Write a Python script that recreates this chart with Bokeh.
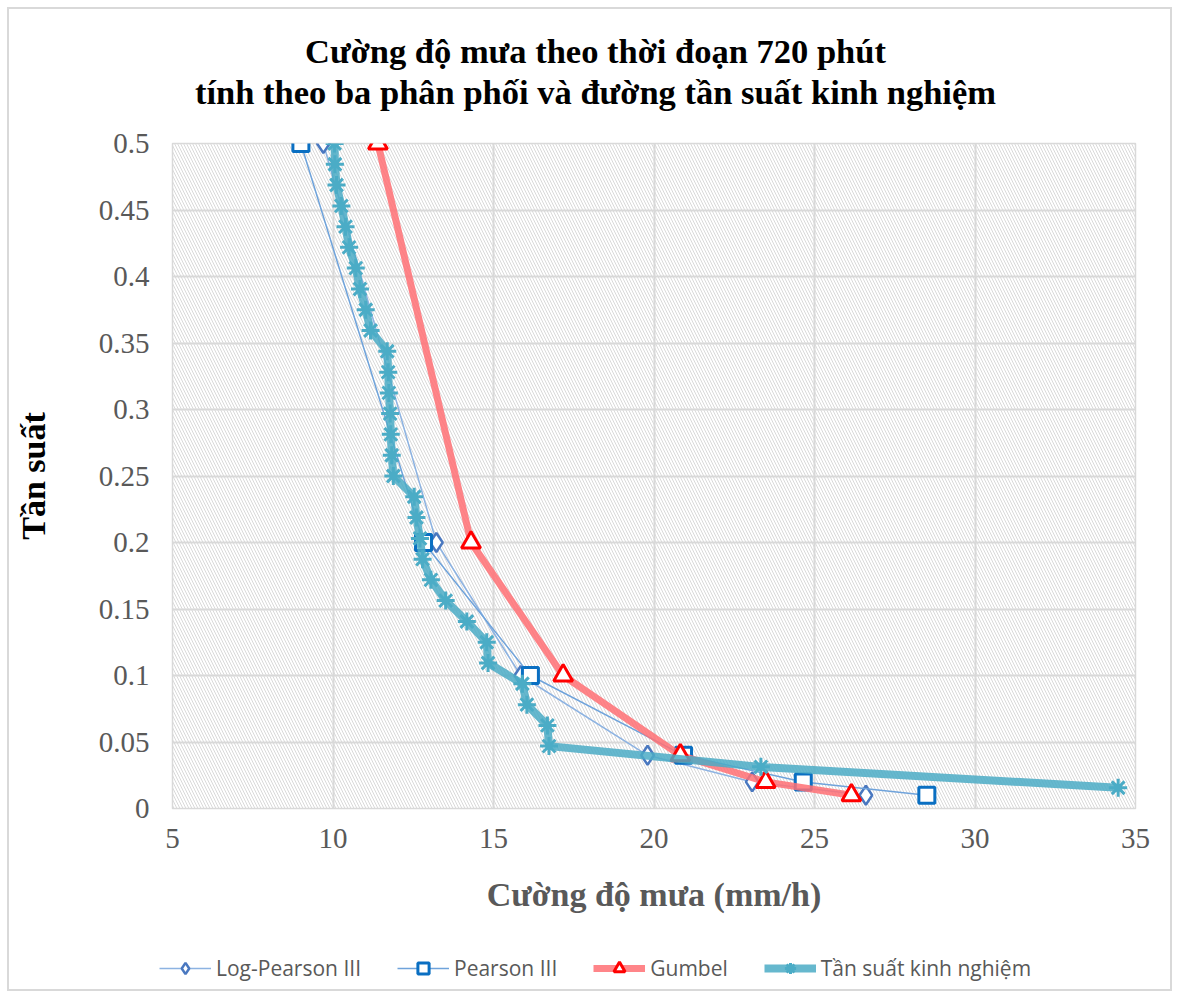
from bokeh.plotting import figure
from bokeh.layouts import column
from bokeh.models import (Range1d, FixedTicker, CustomJSTickFormatter, Legend,
                          LegendItem, BoxAnnotation, Label)
from bokeh.embed import file_html
from bokeh.resources import INLINE

# ---- data ----
dist_freq = [0.5, 0.2, 0.1, 0.04, 0.02, 0.01]
lp3_x = [9.7, 13.22, 15.85, 19.8, 23.06, 26.6]
p3_x = [9.0, 12.82, 16.15, 20.92, 24.65, 28.5]
gumbel_x = [11.4, 14.3, 17.17, 20.82, 23.48, 26.15]

emp_freq = [0.5, 0.4844, 0.4688, 0.4531, 0.4375, 0.4219, 0.4063, 0.3906,
            0.375, 0.3594, 0.3438, 0.3281, 0.3125, 0.2969, 0.2813, 0.2656,
            0.25, 0.2344, 0.2188, 0.2031, 0.1875, 0.1719, 0.1563, 0.1406,
            0.125, 0.1094, 0.0938, 0.0781, 0.0625, 0.0469, 0.0313, 0.0156]
emp_x = [10.05, 10.06, 10.11, 10.26, 10.39, 10.5, 10.71, 10.84,
         11.02, 11.17, 11.69, 11.72, 11.74, 11.78, 11.8, 11.83,
         11.88, 12.53, 12.6, 12.71, 12.79, 13.05, 13.51, 14.17,
         14.79, 14.83, 15.9, 16.04, 16.68, 16.73, 23.33, 34.46]

x_ticks = [5, 10, 15, 20, 25, 30, 35]
y_ticks = [0, 0.05, 0.1, 0.15, 0.2, 0.25, 0.3, 0.35, 0.4, 0.45, 0.5]

title_lines = ["Cường độ mưa theo thời đoạn 720 phút",
               "tính theo ba phân phối và đường tần suất kinh nghiệm"]
x_label = "Cường độ mưa (mm/h)"
y_label = "Tần suất"
names = ["Log-Pearson III", "Pearson III", "Gumbel", "Tần suất kinh nghiệm"]

SERIF = "Liberation Serif"
GRAY = "#595959"
W = 1161

# series styles
styles = [
    dict(line=dict(line_color="#8db3e2", line_width=1.5),
         mark=dict(marker="diamond", size=19, fill_color="white",
                   line_color="#4a78c0", line_width=2.5)),
    dict(line=dict(line_color="#6fa3db", line_width=1.5),
         mark=dict(marker="square", size=16, fill_color="white",
                   line_color="#0a6fc2", line_width=3)),
    dict(line=dict(line_color="#ff7074", line_width=7, line_alpha=0.85),
         mark=dict(marker="triangle", size=19, fill_color="white",
                   line_color="#ff0000", line_width=3)),
    dict(line=dict(line_color="#4bacc6", line_width=8, line_alpha=0.85),
         mark=dict(marker="asterisk", size=18, line_color="#4bacc6", line_width=3)),
]


def strip(height):
    f = figure(width=W, height=height, output_backend="svg", toolbar_location=None,
               x_axis_type=None, y_axis_type=None, x_range=Range1d(0, W),
               y_range=Range1d(0, height), min_border=0, outline_line_color=None)
    f.grid.visible = False
    f.frame_align = False
    return f


# ---- title strip ----
TH = 114
top = strip(TH)
for i, txt in enumerate(title_lines):
    top.add_layout(Label(x=586, y=[73, 32][i], text=txt, text_align="center",
                         text_baseline="middle", text_font=SERIF, text_font_size="34.5px",
                         text_font_style="bold", text_color="black"))

# ---- main chart ----
p = figure(width=W, height=792, output_backend="svg", toolbar_location=None,
           x_range=Range1d(5, 35), y_range=Range1d(0, 0.5),
           min_border_left=163, min_border_right=35, min_border_top=20,
           min_border_bottom=0)
p.frame_align = False

p.add_layout(BoxAnnotation(left=5, right=35, bottom=0, top=0.5, fill_color="white",
                           fill_alpha=0, line_color=None, hatch_pattern="\\",
                           hatch_color="#d9d9d9", hatch_scale=6, hatch_weight=1,
                           level="underlay"))

p.outline_line_color = "#d9d9d9"
p.outline_line_width = 1.5
p.grid.grid_line_color = "#d9d9d9"
p.grid.grid_line_width = 2
p.xgrid.ticker = FixedTicker(ticks=x_ticks)
p.ygrid.ticker = FixedTicker(ticks=y_ticks)

for ax in (p.xaxis, p.yaxis):
    ax.axis_line_color = None
    ax.major_tick_line_color = None
    ax.minor_tick_line_color = None
    ax.major_label_text_font = SERIF
    ax.major_label_text_font_size = "29px"
    ax.major_label_text_color = GRAY
    ax.axis_label_text_font = SERIF
    ax.axis_label_text_font_style = "bold"
    ax.axis_label_text_font_size = "34px"

p.xaxis.ticker = FixedTicker(ticks=x_ticks)
p.yaxis.ticker = FixedTicker(ticks=y_ticks)
p.yaxis.formatter = CustomJSTickFormatter(code="return String(Math.round(tick*100)/100);")
p.xaxis.major_label_standoff = 14
p.yaxis.major_label_standoff = 17
p.xaxis.axis_label = x_label
p.xaxis.axis_label_text_color = GRAY
p.xaxis.axis_label_standoff = 25
p.yaxis.axis_label = y_label
p.yaxis.axis_label_text_color = "black"
p.yaxis.axis_label_standoff = 44

series = [(lp3_x, dist_freq), (p3_x, dist_freq), (gumbel_x, dist_freq), (emp_x, emp_freq)]
for (xs, ys), st in zip(series, styles):
    p.line(xs, ys, **st["line"])
    p.scatter(xs, ys, **st["mark"])

# ---- legend strip ----
LH = 980 - TH - 792
lg = strip(LH)
items = []
for name, st in zip(names, styles):
    rl = lg.line([-100, -90], [-100, -90], **st["line"])
    rm = lg.scatter([-100], [-100], **st["mark"])
    items.append(LegendItem(label=name, renderers=[rl, rm]))
lg.add_layout(Legend(items=items, orientation="horizontal", location=(150, 7),
                     label_text_font="Open Sans", label_text_font_size="21px",
                     label_text_color=GRAY, glyph_width=52, glyph_height=28,
                     label_standoff=5, spacing=36, border_line_color=None,
                     background_fill_alpha=0, margin=0, padding=0))

layout = column(top, p, lg, spacing=0)
layout.styles = {"border": "2px solid #d9d9d9", "margin": "7px"}

open("out.html", "w").write(file_html(layout, INLINE))
